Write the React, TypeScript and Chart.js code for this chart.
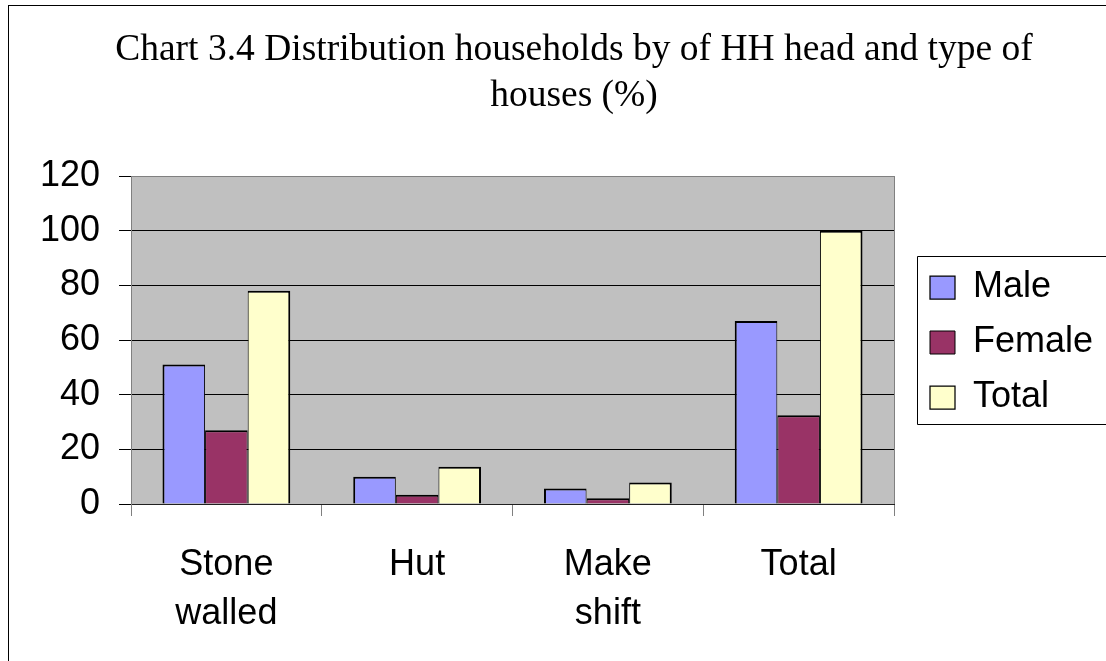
import React, { useEffect, useRef } from 'react';
import { Chart, registerables } from 'chart.js';

Chart.register(...registerables);

const categories: (string | string[])[] = [['Stone', 'walled'], 'Hut', ['Make', 'shift'], 'Total'];
const maleValues = [51, 10, 5.7, 67];
const femaleValues = [27, 3.4, 2.1, 32.5];
const totalValues = [78, 13.6, 7.9, 100];
const seriesNames = ['Male', 'Female', 'Total'];
const seriesColors = ['#9999FF', '#993366', '#FFFFCC'];
const yMin = 0;
const yMax = 120;
const yStep = 20;
const titleLines = ['Chart 3.4 Distribution households by of HH head and type of', 'houses (%)'];

const W = 1130;
const H = 673;
const SANS = "'Liberation Sans', Arial, sans-serif";
const SERIF = "'Liberation Serif', 'Times New Roman', serif";
const LEGEND_FONT = 36;
const LEGEND_BOX = 25;
const LEGEND_PAD = 19;

const decorPlugin = {
  id: 'decor',
  beforeDraw(chart: any) {
    const { ctx, chartArea } = chart;
    ctx.save();
    ctx.fillStyle = '#C0C0C0';
    ctx.fillRect(chartArea.left, chartArea.top, chartArea.right - chartArea.left, chartArea.bottom - chartArea.top);
    ctx.restore();
  },
  afterDraw(chart: any) {
    const { ctx, chartArea } = chart;
    ctx.save();
    ctx.strokeStyle = '#808080';
    ctx.lineWidth = 1;
    ctx.beginPath();
    const rx = Math.round(chartArea.right) + 0.5;
    ctx.moveTo(rx, chartArea.top);
    ctx.lineTo(rx, chartArea.bottom);
    ctx.stroke();
    const lg = chart.legend;
    if (lg && lg.legendHitBoxes && lg.legendHitBoxes.length) {
      const hb = lg.legendHitBoxes;
      const c1 = hb[0].top + hb[0].height / 2;
      const c3 = hb[hb.length - 1].top + hb[hb.length - 1].height / 2;
      const x0 = Math.round(hb[0].left - 13) + 0.5;
      const y0 = Math.round(c1 - 31.5) + 0.5;
      const y1 = Math.round(c3 + 26.5) + 0.5;
      ctx.strokeStyle = '#000';
      ctx.beginPath();
      ctx.moveTo(W + 5, y0);
      ctx.lineTo(x0, y0);
      ctx.lineTo(x0, y1);
      ctx.lineTo(W + 5, y1);
      ctx.stroke();
    }
    ctx.restore();
  },
};

export default function App() {
  const ref = useRef<HTMLCanvasElement | null>(null);
  useEffect(() => {
    if (!ref.current) return;
    Chart.defaults.color = '#000';
    Chart.defaults.font.family = SANS;
    const mctx = document.createElement('canvas').getContext('2d') as CanvasRenderingContext2D;
    mctx.font = `normal ${LEGEND_FONT}px ${SANS}`;
    const tw = Math.max(...seriesNames.map((n) => mctx.measureText(n).width));
    const legendW = LEGEND_PAD + LEGEND_BOX + LEGEND_FONT / 2 + tw + 10;
    const outerW = Math.max(0, 1102 - 902 - legendW);

    const values = [maleValues, femaleValues, totalValues];
    const borders = [
      { left: 2, right: 1, top: 2, bottom: 0 },
      { left: 1, right: 1, top: 2, bottom: 0 },
      { left: 1, right: 2, top: 2, bottom: 0 },
    ];
    const chart = new Chart(ref.current, {
      type: 'bar',
      data: {
        labels: categories,
        datasets: seriesNames.map((name, i) => ({
          label: name,
          data: values[i],
          backgroundColor: seriesColors[i],
          borderColor: '#000',
          borderWidth: borders[i],
          borderSkipped: 'start',
          categoryPercentage: 0.67,
          barPercentage: 1.0,
        })),
      },
      options: {
        responsive: false,
        devicePixelRatio: 1,
        animation: false,
        layout: { padding: { left: 28, right: 28, top: 0, bottom: 0 } },
        plugins: {
          title: {
            display: true,
            text: titleLines,
            color: '#000',
            font: { family: SERIF, size: 37.5, weight: 'normal', lineHeight: 1.227 },
            padding: { top: 21.5, bottom: 56.5 },
          },
          legend: {
            display: true,
            position: 'right',
            maxWidth: 400,
            labels: {
              color: '#000',
              font: { family: SANS, size: LEGEND_FONT },
              boxWidth: LEGEND_BOX,
              boxHeight: 23,
              padding: LEGEND_PAD,
            },
          },
          tooltip: { enabled: false },
        },
        scales: {
          x: {
            grid: {
              display: true,
              drawOnChartArea: false,
              drawTicks: true,
              tickLength: 12,
              color: '#808080',
              offset: true,
            },
            border: { display: true, color: '#202020', width: 1 },
            ticks: {
              color: '#000',
              padding: 25,
              maxRotation: 0,
              autoSkip: false,
              font: { family: SANS, size: 36, lineHeight: 1.361 },
            },
            afterFit: (s: any) => { s.height = 175; },
          },
          y: {
            min: yMin,
            max: yMax,
            ticks: {
              stepSize: yStep,
              color: '#000',
              padding: 19,
              font: { family: SANS, size: 36 },
            },
            grid: {
              color: (c: any) => (c.tick && c.tick.value === yMax ? '#808080' : '#000'),
              tickColor: '#000',
              tickLength: 12,
              drawTicks: true,
            },
            border: { display: true, color: '#808080', width: 1 },
            afterFit: (s: any) => { s.width = 94; },
          },
          spacer: {
            type: 'linear',
            position: 'right',
            weight: 0,
            display: true,
            grid: { display: false, drawTicks: false },
            ticks: { display: false },
            border: { display: false },
            afterFit: (s: any) => { s.width = 17; },
          },
          spacerOuter: {
            type: 'linear',
            position: 'right',
            weight: 2000,
            display: true,
            grid: { display: false, drawTicks: false },
            ticks: { display: false },
            border: { display: false },
            afterFit: (s: any) => { s.width = outerW; },
          },
        },
      },
      plugins: [decorPlugin],
    } as any);
    return () => chart.destroy();
  }, []);

  return (
    <div style={{ position: 'fixed', left: 0, top: 0, right: 0, bottom: 0, overflow: 'hidden', background: '#fff' }}>
      <div style={{ position: 'absolute', left: 8, top: 5, width: W, height: H, border: '1px solid #000' }}>
        <canvas ref={ref} width={W} height={H} style={{ display: 'block', width: W, height: H }} />
      </div>
    </div>
  );
}
